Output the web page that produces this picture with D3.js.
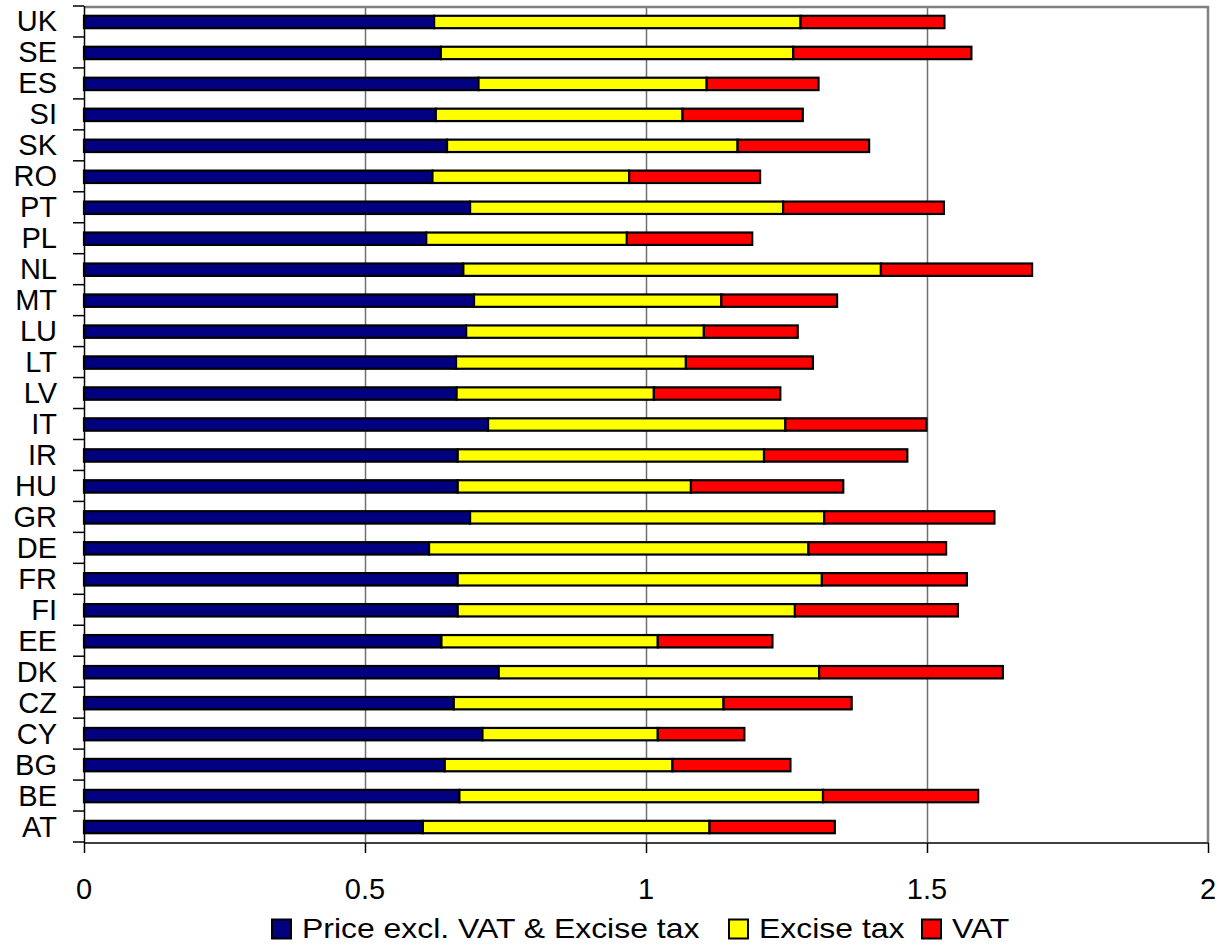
<!DOCTYPE html>
<html>
<head>
<meta charset="utf-8">
<script src="https://cdn.jsdelivr.net/npm/d3@7"></script>
<style>
  html, body { margin: 0; padding: 0; background: #fff; }
  svg { display: block; font-family: "Liberation Sans", Arial, sans-serif; }
</style>
</head>
<body>
<svg id="chart" width="1220" height="945"></svg>
<script>
// Countries, listed from the bottom bar upwards
const countries = ["AT","BE","BG","CY","CZ","DK","EE","FI","FR","DE","GR","HU","IR","IT","LV","LT","LU","MT","NL","PL","PT","RO","SK","SI","ES","SE","UK"];

// Price components per litre (EUR)
const priceExcl = [0.603,0.668,0.642,0.709,0.658,0.738,0.636,0.665,0.665,0.614,0.687,0.665,0.665,0.719,0.663,0.662,0.680,0.694,0.675,0.609,0.687,0.620,0.646,0.626,0.702,0.635,0.623];
const exciseTax = [0.510,0.647,0.405,0.312,0.480,0.570,0.385,0.600,0.648,0.675,0.630,0.415,0.545,0.529,0.351,0.409,0.423,0.440,0.743,0.357,0.557,0.350,0.517,0.439,0.406,0.627,0.652];
const vat       = [0.223,0.276,0.210,0.154,0.228,0.327,0.204,0.290,0.258,0.245,0.303,0.271,0.255,0.251,0.225,0.226,0.167,0.206,0.269,0.223,0.286,0.233,0.234,0.214,0.199,0.317,0.256];

const seriesNames = ["Price excl. VAT & Excise tax", "Excise tax", "VAT"];
const seriesKeys = ["price", "excise", "vat"];
const seriesColors = ["#000080", "#FFFF00", "#FF0000"];
const xTicks = [0, 0.5, 1, 1.5, 2];
const xTickLabels = ["0", "0.5", "1", "1.5", "2"];

const rows = countries.map((c, i) => ({
  country: c, price: priceExcl[i], excise: exciseTax[i], vat: vat[i]
}));

const svg = d3.select("#chart");
const plot = { left: 84, right: 1208, top: 6, bottom: 842 };

const x = d3.scaleLinear().domain([0, 2]).range([plot.left, plot.right]);
const y = d3.scaleBand()
  .domain(countries.slice().reverse())
  .range([plot.top, plot.bottom])
  .paddingInner(0.6)
  .paddingOuter(0.3);
const color = d3.scaleOrdinal().domain(seriesKeys).range(seriesColors);

// vertical gridlines
svg.append("g")
  .selectAll("line")
  .data(xTicks.filter(t => t > 0 && t < 2))
  .join("line")
  .attr("x1", d => Math.round(x(d)) + 0.5)
  .attr("x2", d => Math.round(x(d)) + 0.5)
  .attr("y1", plot.top)
  .attr("y2", plot.bottom)
  .attr("stroke", "#707070")
  .attr("stroke-width", 1.5);

// plot frame: grey top and right edges
svg.append("path")
  .attr("d", `M${plot.left},${plot.top + 1}H${plot.right}V${plot.bottom}`)
  .attr("fill", "none")
  .attr("stroke", "#808080")
  .attr("stroke-width", 2.5);

// stacked bars
const stacked = d3.stack().keys(seriesKeys)(rows);
const bh = y.bandwidth();
svg.append("g")
  .selectAll("g")
  .data(stacked)
  .join("g")
  .attr("fill", d => color(d.key))
  .selectAll("rect")
  .data(d => d)
  .join("rect")
  .attr("x", d => x(d[0]))
  .attr("width", d => x(d[1]) - x(d[0]))
  .attr("y", d => y(d.data.country) + 0.5)
  .attr("height", bh)
  .attr("stroke", "#000")
  .attr("stroke-width", 2.2);

// y axis: line, ticks at category boundaries, labels
const step = y.step();
const yAxis = svg.append("g");
yAxis.append("line")
  .attr("x1", plot.left + 0.5).attr("x2", plot.left + 0.5)
  .attr("y1", plot.top).attr("y2", plot.bottom + 1)
  .attr("stroke", "#000").attr("stroke-width", 1.5);
yAxis.selectAll("line.tick")
  .data(d3.range(countries.length + 1))
  .join("line")
  .attr("class", "tick")
  .attr("x1", plot.left - 11).attr("x2", plot.left)
  .attr("y1", i => plot.top + i * step)
  .attr("y2", i => plot.top + i * step)
  .attr("stroke", "#000").attr("stroke-width", 1.5);
yAxis.selectAll("text")
  .data(y.domain())
  .join("text")
  .attr("x", 57)
  .attr("y", d => y(d) + bh / 2 + 10)
  .attr("text-anchor", "end")
  .attr("font-size", 29)
  .attr("fill", "#000")
  .text(d => d);

// x axis
const xAxis = svg.append("g");
xAxis.append("line")
  .attr("x1", plot.left).attr("x2", plot.right + 1)
  .attr("y1", plot.bottom + 1).attr("y2", plot.bottom + 1)
  .attr("stroke", "#000").attr("stroke-width", 1.5);
xAxis.selectAll("line.tick")
  .data(xTicks)
  .join("line")
  .attr("class", "tick")
  .attr("x1", d => Math.round(x(d)) + 0.5)
  .attr("x2", d => Math.round(x(d)) + 0.5)
  .attr("y1", plot.bottom + 1).attr("y2", plot.bottom + 11)
  .attr("stroke", "#000").attr("stroke-width", 1.5);
xAxis.selectAll("text")
  .data(xTicks)
  .join("text")
  .attr("x", d => x(d))
  .attr("y", 899)
  .attr("text-anchor", "middle")
  .attr("font-size", 29)
  .attr("fill", "#000")
  .text((d, i) => xTickLabels[i]);

// legend, slightly widened lettering
const legendSquareX = [272, 729, 922];
const legend = svg.append("g");
seriesNames.forEach((name, i) => {
  legend.append("rect")
    .attr("x", legendSquareX[i]).attr("y", 919.5)
    .attr("width", 19).attr("height", 19)
    .attr("fill", seriesColors[i])
    .attr("stroke", "#000").attr("stroke-width", 2);
  const t = legend.append("text")
    .attr("x", legendSquareX[i] + 30)
    .attr("y", 938)
    .attr("font-size", 28)
    .attr("fill", "#000")
    .text(name);
  const w = t.node().getComputedTextLength();
  t.attr("textLength", w * 1.14).attr("lengthAdjust", "spacingAndGlyphs");
});
</script>
</body>
</html>
